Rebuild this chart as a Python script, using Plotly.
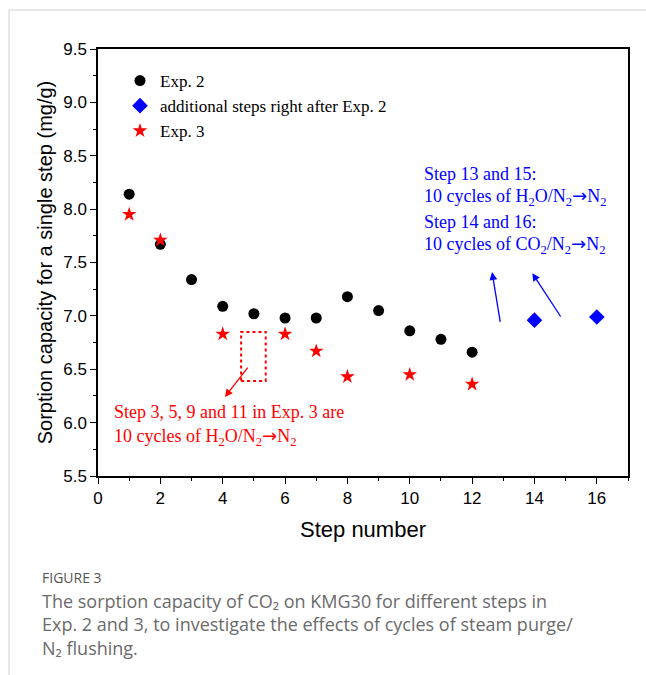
import plotly.graph_objects as go

# Step numbers and CO2 sorption capacity (mg/g) per step
exp2_steps = [1, 2, 3, 4, 5, 6, 7, 8, 9, 10, 11, 12]
exp2_capacity = [8.14, 7.67, 7.34, 7.09, 7.02, 6.98, 6.98, 7.18, 7.05, 6.86, 6.78, 6.66]

extra_steps = [14, 16]
extra_capacity = [6.96, 6.99]

exp3_steps = [1, 2, 4, 6, 7, 8, 10, 12]
exp3_capacity = [7.95, 7.71, 6.83, 6.83, 6.67, 6.43, 6.45, 6.36]

W, H = 646, 675
L, R, T, B = 98, 18, 49, 199
PW, PH = W - L - R, H - T - B


def px(x):
    return (x - L) / PW


def py(y):
    return (H - B - y) / PH


SERIF = "Liberation Serif, Times New Roman, serif"
SANS = "Liberation Sans, Arial, sans-serif"
CAP = "Open Sans, Lato, sans-serif"
ARROW = '<span style="font-family:DejaVu Sans">→</span>'

fig = go.Figure()
fig.add_trace(go.Scatter(x=exp2_steps, y=exp2_capacity, mode="markers", name="Exp. 2",
                         marker=dict(symbol="circle", size=11, color="black")))
fig.add_trace(go.Scatter(x=extra_steps, y=extra_capacity, mode="markers",
                         name="additional steps right after Exp. 2",
                         marker=dict(symbol="diamond", size=12, color="#0000ff")))
fig.add_trace(go.Scatter(x=exp3_steps, y=exp3_capacity, mode="markers", name="Exp. 3",
                         marker=dict(symbol="star", size=11, color="#ff0000")))

axis_common = dict(showline=True, linecolor="black", linewidth=1.5, mirror=True,
                   ticks="outside", ticklen=6, tickwidth=1.2, tickcolor="black",
                   showgrid=False, zeroline=False,
                   tickfont=dict(family=SANS, size=17, color="black"))

fig.update_xaxes(range=[0, 17], dtick=2, tick0=0,
                 minor=dict(dtick=1, ticks="outside", ticklen=3, tickcolor="black"),
                 title=dict(text="Step number", font=dict(family=SANS, size=22, color="black"),
                            standoff=14),
                 **axis_common)
fig.update_yaxes(range=[5.5, 9.5], dtick=0.5, tick0=5.5, tickformat=".1f",
                 minor=dict(dtick=0.25, ticks="outside", ticklen=3, tickcolor="black"),
                 title=dict(text="Sorption capacity for a single step (mg/g)",
                            font=dict(family=SANS, size=20, color="black"), standoff=5),
                 **axis_common)

# dotted box marking the missing Exp. 3 steps
fig.add_shape(type="rect", x0=4.59, x1=5.38, y0=6.39, y1=6.85,
              line=dict(color="#ff0000", width=2, dash="dot"))

ann = []
# red arrow and note
ann.append(dict(x=4.07, y=6.24, ax=4.84, ay=6.53, xref="x", yref="y", axref="x", ayref="y",
                showarrow=True, arrowhead=2, arrowsize=1.2, arrowwidth=1.3,
                arrowcolor="#ff0000", text=""))
red_lines = [
    ("Step 3, 5, 9 and 11 in Exp. 3 are", 412),
    ("10 cycles of H<sub>2</sub>O/N<sub>2</sub>" + ARROW + "N<sub>2</sub>", 437),
]
for txt, yy in red_lines:
    ann.append(dict(x=px(112), y=py(yy), xref="paper", yref="paper", xanchor="left",
                    yanchor="middle", showarrow=False, align="left", text=txt,
                    font=dict(family=SERIF, size=18, color="#ff0000")))

# blue arrows and notes
ann.append(dict(x=12.64, y=7.41, ax=12.91, ay=6.93, xref="x", yref="y", axref="x", ayref="y",
                showarrow=True, arrowhead=2, arrowsize=1.2, arrowwidth=1.3,
                arrowcolor="#0000ff", text=""))
ann.append(dict(x=13.93, y=7.40, ax=14.87, ay=6.98, xref="x", yref="y", axref="x", ayref="y",
                showarrow=True, arrowhead=2, arrowsize=1.2, arrowwidth=1.3,
                arrowcolor="#0000ff", text=""))
blue_lines = [
    ("Step 13 and 15:", 174),
    ("10 cycles of H<sub>2</sub>O/N<sub>2</sub>" + ARROW + "N<sub>2</sub>", 197),
    ("Step 14 and 16:", 222),
    ("10 cycles of CO<sub>2</sub>/N<sub>2</sub>" + ARROW + "N<sub>2</sub>", 245),
]
for txt, yy in blue_lines:
    ann.append(dict(x=px(422), y=py(yy), xref="paper", yref="paper", xanchor="left",
                    yanchor="middle", showarrow=False, align="left", text=txt,
                    font=dict(family=SERIF, size=18, color="#0000ff")))

# figure caption
ann.append(dict(x=px(40), y=py(577), xref="paper", yref="paper", xanchor="left",
                yanchor="middle", showarrow=False, text="FIGURE 3",
                font=dict(family=CAP, size=14, color="#555555")))
caption = ("The sorption capacity of CO₂ on KMG30 for different steps in<br>"
           "Exp. 2 and 3, to investigate the effects of cycles of steam purge/<br>"
           "N₂ flushing.")
ann.append(dict(x=px(40), y=py(587), xref="paper", yref="paper", xanchor="left",
                yanchor="top", showarrow=False, align="left", text=caption,
                font=dict(family=CAP, size=18, color="#6b6b6b")))

fig.update_layout(annotations=ann)

# card border (top and left)
fig.add_shape(type="line", xref="paper", yref="paper", x0=px(9), x1=px(646), y0=py(10), y1=py(10),
              line=dict(color="#d0d0d0", width=1))
fig.add_shape(type="line", xref="paper", yref="paper", x0=px(9), x1=px(9), y0=py(10), y1=py(675),
              line=dict(color="#d0d0d0", width=1))

fig.update_layout(
    width=W, height=H,
    margin=dict(l=L, r=R, t=T, b=B),
    paper_bgcolor="white", plot_bgcolor="white",
    legend=dict(x=px(120), y=py(63), xanchor="left", yanchor="top",
                bgcolor="rgba(0,0,0,0)", font=dict(family=SERIF, size=17, color="black"),
                itemwidth=30, tracegroupgap=0),
)

fig.write_html("out.html")
